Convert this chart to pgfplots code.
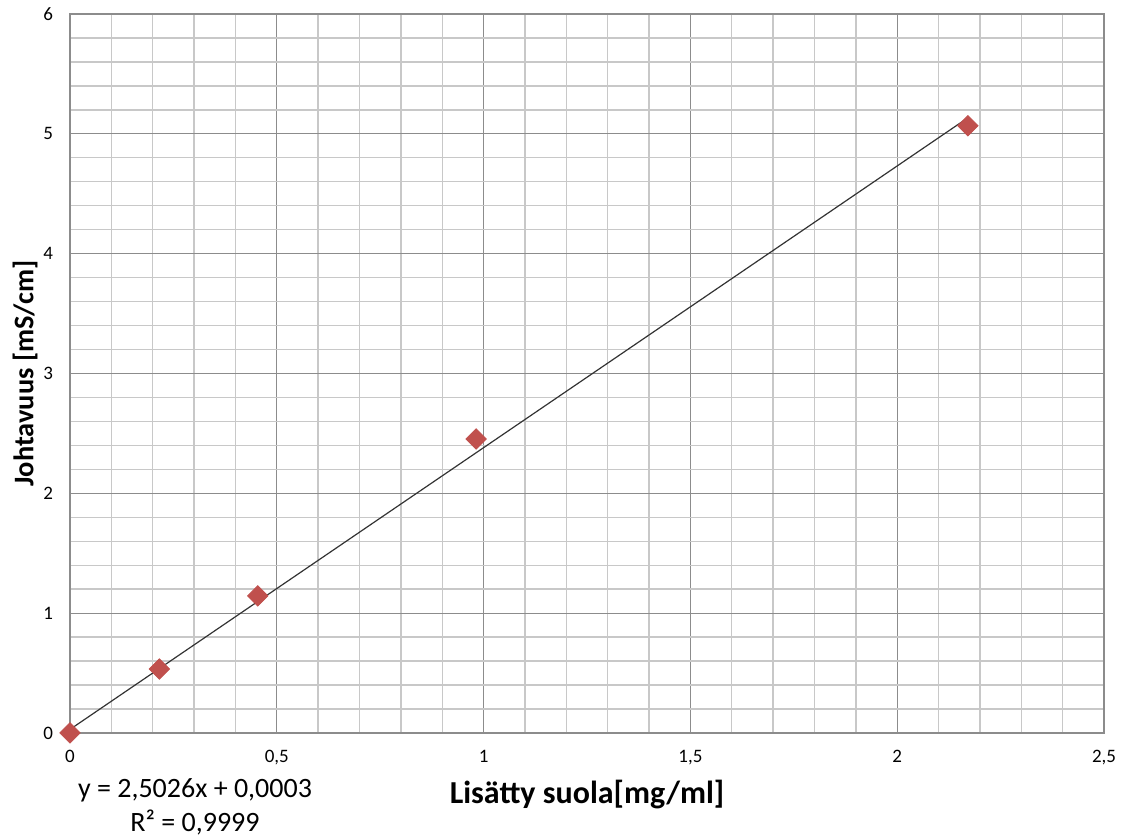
\documentclass[border=0pt]{standalone}
\usepackage{pgfplots}
\pgfplotsset{compat=1.18}
\usepackage{fontspec}
\setmainfont{Carlito}
\definecolor{exred}{RGB}{192,80,77}
\begin{document}
\begin{tikzpicture}[x=1pt,y=1pt]
\begin{axis}[
  scale only axis,
  width=517pt, height=359.5pt,
  xmin=0, xmax=2.5, ymin=0, ymax=6,
  xtick={0,0.5,1,1.5,2,2.5},
  ytick={0,1,2,3,4,5,6},
  minor x tick num=4,
  minor y tick num=4,
  grid=both,
  major grid style={draw={rgb,255:red,140;green,140;blue,140}, line width=0.6pt},
  minor grid style={draw={rgb,255:red,200;green,200;blue,200}, line width=0.7pt},
  axis line style={draw={rgb,255:red,140;green,140;blue,140}, line width=0.6pt},
  major tick length=0pt, minor tick length=0pt,
  /pgf/number format/use comma,
  /pgf/number format/assume math mode=true,
  tick label style={font=\fontsize{9.5}{11}\selectfont},
  xticklabel style={yshift=-5pt},
  yticklabel style={xshift=-5pt},
  xlabel={Lisätty suola[mg/ml]},
  ylabel={Johtavuus [mS/cm]},
  xlabel style={font=\fontsize{16}{18}\selectfont\bfseries, at={(axis description cs:0.5,-0.0862)}, anchor=center},
  ylabel style={font=\fontsize{14.2}{16}\selectfont\bfseries, at={(axis description cs:-0.0435,0.5)}, anchor=center},
  clip=false,
]
\addplot[black!80, line width=0.6pt] coordinates {(0,0.03) (2.165,5.12)};
\addplot[only marks, mark=square*, mark size=3.6pt, mark options={rotate=45}, color=exred] coordinates {
(0,0) (0.216,0.534) (0.454,1.144) (0.982,2.454) (2.171,5.067)};
\node[font=\fontsize{14}{16}\selectfont, anchor=center] at (rel axis cs:0,0) [xshift=62.5pt, yshift=-28.5pt] {y = 2,5026x + 0,0003};
\node[font=\fontsize{14}{16}\selectfont, anchor=center] at (rel axis cs:0,0) [xshift=62.5pt, yshift=-44.5pt] {R² = 0,9999};
\end{axis}
\pgfresetboundingbox
\path[use as bounding box] (current axis.south west) ++(-35pt,-52pt) rectangle ([xshift=11.5pt,yshift=7pt]current axis.north east);
\end{tikzpicture}
\end{document}
